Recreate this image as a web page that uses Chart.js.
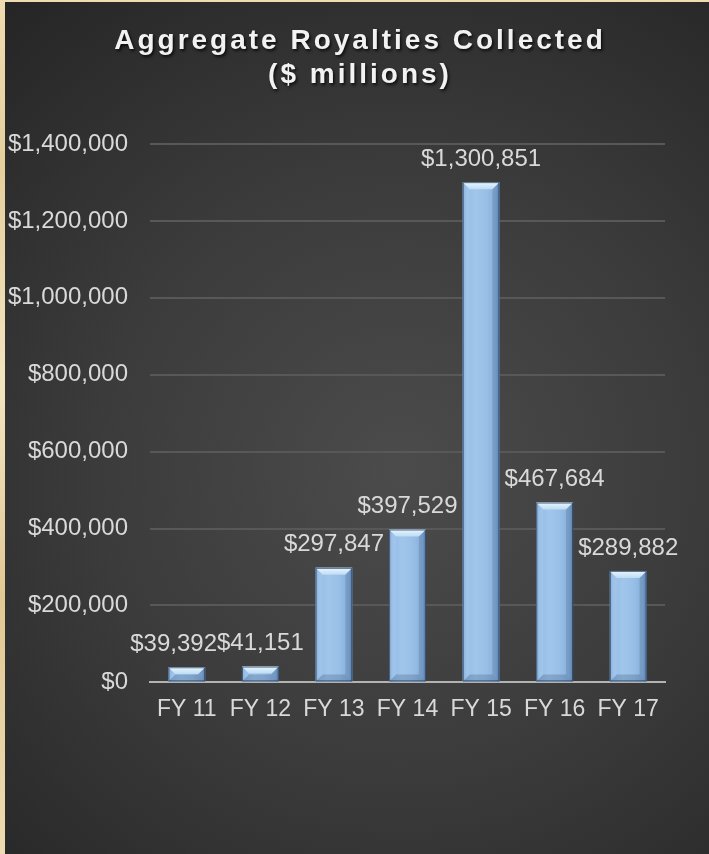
<!DOCTYPE html>
<html>
<head>
<meta charset="utf-8">
<title>Aggregate Royalties Collected</title>
<script src="https://cdn.jsdelivr.net/npm/chart.js@4.4.1/dist/chart.umd.min.js"></script>
<style>
  html, body { margin: 0; padding: 0; overflow: hidden; background: #2a2a2a; }
  #wrap { position: relative; width: 709px; height: 854px; }
</style>
</head>
<body>
<div id="wrap"><canvas id="royaltyChart"></canvas></div>
<script>
// Fiscal years and aggregate royalties collected
const categories = ['FY 11', 'FY 12', 'FY 13', 'FY 14', 'FY 15', 'FY 16', 'FY 17'];
const royalties = [39392, 41151, 297847, 397529, 1300851, 467684, 289882];
const yTickValues = [0, 200000, 400000, 600000, 800000, 1000000, 1200000, 1400000];
const titleLines = ['Aggregate Royalties Collected', '($ millions)'];

const TEXT_GREY = '#d9d9d9';
const FONT_FAMILY = '"Liberation Sans", Arial, Helvetica, sans-serif';

function money(n) {
  return '$' + String(Math.round(n)).replace(/\B(?=(\d{3})+(?!\d))/g, ',');
}

// Parchment frame and dark vignette backdrop
const backdrop = {
  id: 'backdrop',
  beforeDraw(chart) {
    const { ctx, width, height } = chart;
    ctx.save();
    const frame = ctx.createLinearGradient(0, 0, 0, height);
    frame.addColorStop(0, '#efdcb0');
    frame.addColorStop(0.2, '#e6cf9c');
    frame.addColorStop(0.45, '#f3e4c0');
    frame.addColorStop(0.7, '#e2c894');
    frame.addColorStop(1, '#eedbb1');
    ctx.fillStyle = frame;
    ctx.fillRect(0, 0, width, height);
    const g = ctx.createRadialGradient(400, 470, 10, 400, 470, 600);
    g.addColorStop(0, '#4b4b4b');
    g.addColorStop(0.5, '#3b3b3b');
    g.addColorStop(1, '#262626');
    ctx.fillStyle = g;
    ctx.fillRect(5, 2, width - 5, height - 2);
    ctx.restore();
  }
};

// Two-line spaced heading with a soft drop shadow
const heading = {
  id: 'heading',
  afterDraw(chart) {
    const { ctx } = chart;
    ctx.save();
    ctx.font = 'bold 28px ' + FONT_FAMILY;
    ctx.letterSpacing = '3px';
    ctx.textAlign = 'center';
    ctx.textBaseline = 'alphabetic';
    ctx.fillStyle = '#f2f2f2';
    ctx.shadowColor = 'rgba(0,0,0,0.75)';
    ctx.shadowBlur = 3;
    ctx.shadowOffsetX = 1.5;
    ctx.shadowOffsetY = 2;
    ctx.fillText(titleLines[0], 360, 49);
    ctx.fillText(titleLines[1], 360, 83);
    ctx.restore();
  }
};

// Bevelled finish on each column, drawn over the bar elements
const bevel = {
  id: 'bevel',
  afterDatasetsDraw(chart) {
    const { ctx } = chart;
    const meta = chart.getDatasetMeta(0);
    ctx.save();
    meta.data.forEach((bar) => {
      const { x, y, base, width } = bar.getProps(['x', 'y', 'base', 'width'], true);
      const l = x - width / 2, r = x + width / 2;
      const top = Math.min(y, base), bot = Math.max(y, base);
      const h = bot - top;
      const b = Math.min(7, h / 2);

      const body = ctx.createLinearGradient(l, 0, r, 0);
      body.addColorStop(0, '#7ea9d6');
      body.addColorStop(0.1, '#93bce6');
      body.addColorStop(0.35, '#a1c6eb');
      body.addColorStop(0.65, '#98bfe6');
      body.addColorStop(0.9, '#86afdb');
      body.addColorStop(1, '#6a94c3');
      ctx.fillStyle = body;
      ctx.fillRect(l, top, width, h);

      // top facet
      const tg = ctx.createLinearGradient(0, top, 0, top + b);
      tg.addColorStop(0, '#eaf6fe');
      tg.addColorStop(1, '#bcdcf4');
      ctx.fillStyle = tg;
      ctx.beginPath();
      ctx.moveTo(l, top); ctx.lineTo(r, top); ctx.lineTo(r - b, top + b); ctx.lineTo(l + b, top + b);
      ctx.closePath(); ctx.fill();

      // left facet
      ctx.fillStyle = 'rgba(255,255,255,0.10)';
      ctx.beginPath();
      ctx.moveTo(l, top); ctx.lineTo(l + b, top + b); ctx.lineTo(l + b, bot - b); ctx.lineTo(l, bot);
      ctx.closePath(); ctx.fill();

      // right facet
      ctx.fillStyle = 'rgba(10,30,60,0.14)';
      ctx.beginPath();
      ctx.moveTo(r, top); ctx.lineTo(r - b, top + b); ctx.lineTo(r - b, bot - b); ctx.lineTo(r, bot);
      ctx.closePath(); ctx.fill();

      // bottom facet
      ctx.fillStyle = 'rgba(10,30,60,0.18)';
      ctx.beginPath();
      ctx.moveTo(l, bot); ctx.lineTo(l + b, bot - b); ctx.lineTo(r - b, bot - b); ctx.lineTo(r, bot);
      ctx.closePath(); ctx.fill();

      ctx.strokeStyle = 'rgba(30,50,80,0.7)';
      ctx.lineWidth = 1;
      ctx.strokeRect(l + 0.5, top + 0.5, width - 1, h - 1);
    });
    ctx.restore();
  }
};

// Value labels above each column; a label that would run into its right-hand
// neighbour at the same height is nudged left so the two sit side by side
const valueLabels = {
  id: 'valueLabels',
  afterDatasetsDraw(chart) {
    const { ctx } = chart;
    const meta = chart.getDatasetMeta(0);
    ctx.save();
    ctx.font = '24px ' + FONT_FAMILY;
    ctx.fillStyle = TEXT_GREY;
    ctx.textAlign = 'center';
    ctx.textBaseline = 'middle';
    const items = meta.data.map((bar, i) => {
      const text = money(royalties[i]);
      return { text, x: bar.x, y: bar.y - 23, w: ctx.measureText(text).width };
    });
    for (let i = items.length - 2; i >= 0; i--) {
      const a = items[i], b = items[i + 1];
      if (Math.abs(a.y - b.y) < 24) {
        const overlap = (a.x + a.w / 2) - (b.x - b.w / 2);
        if (overlap > 0) a.x -= overlap;
      }
    }
    items.forEach((it) => ctx.fillText(it.text, it.x, it.y));
    ctx.restore();
  }
};

new Chart(document.getElementById('royaltyChart'), {
  type: 'bar',
  data: {
    labels: categories,
    datasets: [{
      data: royalties,
      backgroundColor: '#95bde6',
      borderWidth: 0,
      barPercentage: 0.5,
      categoryPercentage: 1.0
    }]
  },
  options: {
    responsive: true,
    maintainAspectRatio: false,
    devicePixelRatio: 1,
    animation: false,
    layout: { padding: { left: 0, right: 44, top: 144, bottom: 118 } },
    plugins: {
      legend: { display: false },
      title: { display: false },
      tooltip: { enabled: false }
    },
    scales: {
      x: {
        grid: { display: false, drawTicks: false },
        border: { display: true, color: '#b3b3b3', width: 2 },
        ticks: {
          color: TEXT_GREY,
          font: { family: FONT_FAMILY, size: 23 },
          padding: 13,
          maxRotation: 0,
          autoSkip: false
        }
      },
      y: {
        min: 0,
        max: 1400000,
        afterBuildTicks(axis) {
          axis.ticks = yTickValues.map((v) => ({ value: v }));
        },
        afterFit(axis) {
          axis.width = 150;
        },
        grid: {
          color: (c) => (c.tick && c.tick.value === 0 ? 'rgba(0,0,0,0)' : '#585858'),
          lineWidth: 2,
          drawTicks: false
        },
        border: { display: false },
        ticks: {
          color: TEXT_GREY,
          font: { family: FONT_FAMILY, size: 24 },
          padding: 22,
          callback: (v) => money(v)
        }
      }
    }
  },
  plugins: [backdrop, heading, bevel, valueLabels]
});
</script>
</body>
</html>
